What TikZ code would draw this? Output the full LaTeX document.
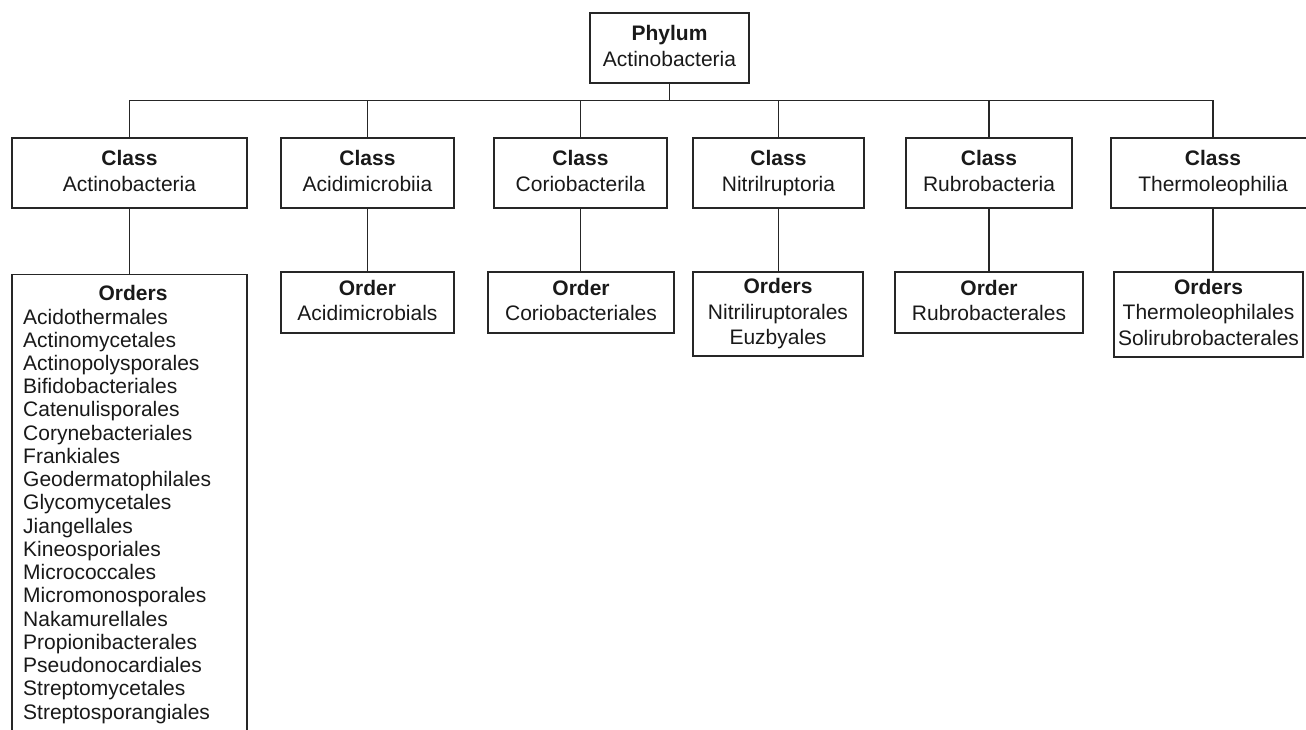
\documentclass[tikz,border=0pt]{standalone}
\usepackage{fontspec}
\setmainfont{Liberation Sans}
% fixed height of first line and depth of last line, so every box sets its text alike
\newcommand\boxtopstrut{\rule{0pt}{18pt}}
\newcommand\boxbotstrut{\rule[-4.5pt]{0pt}{4.5pt}}
\begin{document}
\begin{tikzpicture}[x=1pt,y=-1pt,
  box/.style={draw=black!85, line width=1.3pt, inner sep=0pt, align=center,
    text=black!90, font=\fontsize{21}{25.5}\selectfont,
    execute at begin node=\boxtopstrut, execute at end node=\boxbotstrut},
  frame/.style={draw=black!85, line width=1.3pt, inner sep=0pt},
  link/.style={draw=black!85, line width=1.3pt},
  item/.style={anchor=base west, inner sep=0pt, text=black!90,
    font=\fontsize{21}{23}\selectfont}]
\useasboundingbox (0,0) rectangle (1306,730);
\clip (0,0) rectangle (1306,730);

% phylum
\node[box, minimum width=159pt, minimum height=70pt] (phy) at (669.5,48)
  {\textbf{Phylum}\\Actinobacteria};

% classes
\node[box, minimum width=235pt, minimum height=70pt] (c1) at (129.5,173) {\textbf{Class}\\Actinobacteria};
\node[box, minimum width=173pt, minimum height=70pt] (c2) at (367.5,173) {\textbf{Class}\\Acidimicrobiia};
\node[box, minimum width=173pt, minimum height=70pt] (c3) at (580.5,173) {\textbf{Class}\\Coriobacterila};
\node[box, minimum width=171pt, minimum height=70pt] (c4) at (778.5,173) {\textbf{Class}\\Nitrilruptoria};
\node[box, minimum width=166pt, minimum height=70pt] (c5) at (989,173)   {\textbf{Class}\\Rubrobacteria};
\node[box, minimum width=204pt, minimum height=70pt] (c6) at (1213,173)  {\textbf{Class}\\Thermoleophilia};

% orders
\node[frame, anchor=north, minimum width=235pt, minimum height=470pt] (o1) at (129.5,274) {};
\node[box, minimum width=173pt, minimum height=61pt] (o2) at (367.5,302.5) {\textbf{Order}\\Acidimicrobials};
\node[box, minimum width=186pt, minimum height=61pt] (o3) at (581,302.5)   {\textbf{Order}\\Coriobacteriales};
\node[box, minimum width=170pt, minimum height=84pt] (o4) at (778,314)     {\textbf{Orders}\\Nitriliruptorales\\Euzbyales};
\node[box, minimum width=188pt, minimum height=61pt] (o5) at (989,302.5)   {\textbf{Order}\\Rubrobacterales};
\node[box, minimum width=189pt, minimum height=85pt] (o6) at (1208.5,314.5){\textbf{Orders}\\Thermoleophilales\\Solirubrobacterales};

% list of orders in the first class
\node[item, anchor=base] (ohead) at (133,300) {\textbf{Orders}};
\foreach \name [count=\k from 0] in {Acidothermales, Actinomycetales,
    Actinopolysporales, Bifidobacteriales, Catenulisporales,
    Corynebacteriales, Frankiales, Geodermatophilales, Glycomycetales,
    Jiangellales, Kineosporiales, Micrococcales, Micromonosporales,
    Nakamurellales, Propionibacterales, Pseudonocardiales,
    Streptomycetales, Streptosporangiales}
  \node[item] (L\k) at (23,{324+23.24*\k}) {\name};

% tree connectors
\foreach \i in {1,...,6}
  \draw[link] (phy.south) -- ++(0,17) -| (c\i.north);
\foreach \i in {1,...,6}
  \draw[link] (c\i.south) -- (c\i.south |- o\i.north);
\end{tikzpicture}
\end{document}
